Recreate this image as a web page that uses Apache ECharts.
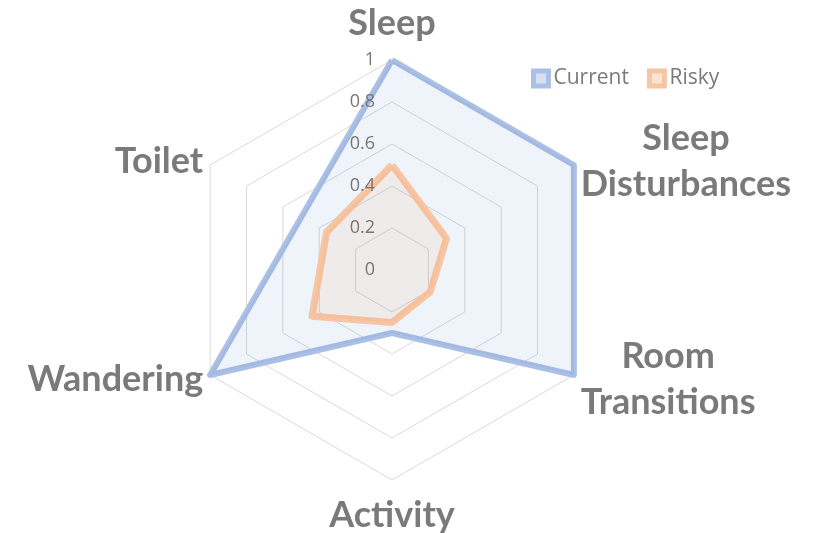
<!DOCTYPE html>
<html>
<head>
<meta charset="utf-8">
<script src="https://cdn.jsdelivr.net/npm/echarts@6/dist/echarts.min.js"></script>
<style>
html, body {margin: 0; padding: 0; background: #fff;}
#chart {width: 815px; height: 533px;}
</style>
</head>
<body>
<div id="chart"></div>
<script>
// indicator order follows echarts (counterclockwise from top)
var indicators = ['Sleep', 'Toilet', 'Wandering', 'Activity', 'Room Transitions', 'Sleep Disturbances'];
var seriesNames = ['Current', 'Risky'];
var currentValues = [1, 0.5, 1, 0.3, 1, 1];
var riskyValues = [0.5, 0.36, 0.44, 0.25, 0.21, 0.3];
var axisMax = 1;

var blueLine = 'rgb(171, 192, 228)';
var orangeLine = 'rgb(246, 197, 164)';
var nameColor = '#7a7a7a';

var chart = echarts.init(document.getElementById('chart'));

function makeIndicators(withLabel){
    return indicators.map(function(name, i){
        var item = {name: name, min: 0, max: axisMax};
        if(withLabel && i == 0){
            item.axisLabel = {show: true};
        }
        return item;
    });
}

var nameStyle = {fontSize: 36, fontWeight: 'bold', fontFamily: 'Lato', color: nameColor, align: 'center'};

chart.setOption({
    animation: false,
    legend: {
        data: [
            {name: seriesNames[0], itemStyle: {color: '#d6e0f2', borderColor: blueLine, borderWidth: 5}},
            {name: seriesNames[1], itemStyle: {color: '#fbe3d3', borderColor: orangeLine, borderWidth: 5}}
        ],
        icon: 'rect',
        left: 526, top: 63,
        itemWidth: 15, itemHeight: 15, itemGap: 18,
        textStyle: {color: '#7a7a7a', fontSize: 21, fontFamily: 'Open Sans'}
    },
    radar: [{
        center: [392, 270],
        radius: 210,
        startAngle: 90,
        splitNumber: 5,
        indicator: makeIndicators(false),
        axisName: {
            color: nameColor,
            formatter: function(value){
                if(value == 'Sleep') return '{top|Sleep}';
                if(value == 'Activity') return '{bot|Activity}';
                return value.split(' ').map(function(w){ return '{a|' + w + '}'; }).join('\n');
            },
            rich: {
                a: Object.assign({lineHeight: 46}, nameStyle),
                top: Object.assign({lineHeight: 58}, nameStyle),
                bot: Object.assign({lineHeight: 54}, nameStyle)
            }
        },
        nameGap: 8,
        axisLine: {show: false},
        axisTick: {show: false},
        axisLabel: {show: false},
        splitLine: {lineStyle: {color: '#d9d9d9', width: 1}},
        splitArea: {show: false}
    }, {
        // second copy only carries the value labels, drawn above the series
        z: 5,
        center: [392, 270],
        radius: 210,
        startAngle: 90,
        splitNumber: 5,
        indicator: makeIndicators(true),
        axisName: {show: false},
        axisLine: {show: false},
        axisTick: {show: false},
        axisLabel: {show: false, color: '#767676', fontSize: 18, fontFamily: 'Open Sans', margin: 17},
        splitLine: {show: false},
        splitArea: {show: false}
    }],
    series: [{
        type: 'radar',
        radarIndex: 0,
        symbol: 'none',
        data: [
            {
                name: seriesNames[0], value: currentValues,
                lineStyle: {color: blueLine, width: 6, join: 'round'},
                areaStyle: {color: 'rgba(68, 114, 196, 0.12)'}
            },
            {
                name: seriesNames[1], value: riskyValues,
                lineStyle: {color: orangeLine, width: 7, join: 'round'},
                areaStyle: {color: 'rgba(237, 125, 49, 0.1)'}
            }
        ]
    }]
});
</script>
</body>
</html>
